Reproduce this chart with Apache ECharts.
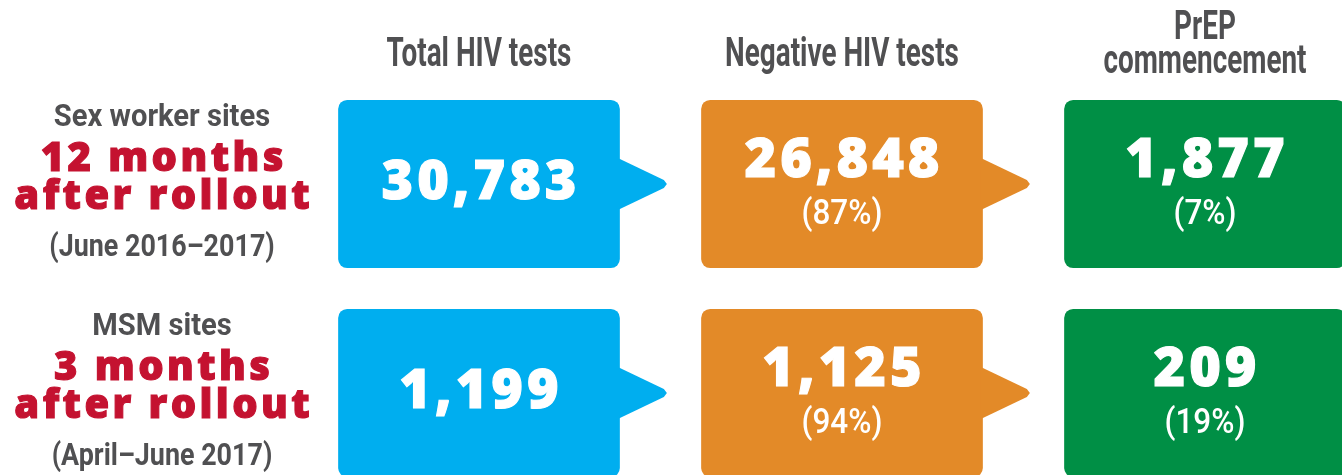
<!DOCTYPE html>
<html>
<head>
<meta charset="utf-8">
<script src="https://cdn.jsdelivr.net/npm/echarts@6/dist/echarts.min.js"></script>
<style>
html,body{margin:0;padding:0;background:#fff;}
#chart{width:1342px;height:475px;}
</style>
</head>
<body>
<div id="chart"></div>
<script>
// ---- data ----
const stages = ['Total HIV tests', 'Negative HIV tests', 'PrEP\ncommencement'];
const groups = ['Sex worker sites', 'MSM sites'];
const groupPeriods = ['12 months\nafter rollout', '3 months\nafter rollout'];
const groupDates = ['(June 2016\u20132017)', '(April\u2013June 2017)'];
const sexWorkerCounts = [30783, 26848, 1877];
const sexWorkerPercents = [null, 87, 7];
const msmCounts = [1199, 1125, 209];
const msmPercents = [null, 94, 19];
const stageColors = ['#00AEEF', '#E38A28', '#008F45'];

const HEAVY = '"Open Sans", "Noto Sans", sans-serif';
const COND = 'Roboto, "Noto Sans", sans-serif';
const GRAY = '#505052';
const RED = '#C41230';

const mctx = document.createElement('canvas').getContext('2d');
function tw(str, font) { mctx.font = font; return mctx.measureText(str).width; }

// letter-spaced heavy text, centred on (cx, cy)
function spaced(str, cx, cy, font, spacing, fill) {
  const chars = Array.from(str);
  const total = tw(str, font) + spacing * (chars.length - 1);
  const left = cx - total / 2;
  return chars.map((ch, i) => ({
    type: 'text',
    style: {
      x: left + tw(chars.slice(0, i).join(''), font) + spacing * i, y: cy,
      text: ch, font: font, fill: fill, stroke: fill, lineWidth: 1.1,
      textAlign: 'left', textVerticalAlign: 'middle'
    }
  }));
}
// horizontally condensed text, centred on (cx, cy)
function condensed(str, cx, cy, font, sx, fill) {
  return {
    type: 'text', x: cx, y: cy, scaleX: sx,
    style: { x: 0, y: 0, text: str, font: font, fill: fill, textAlign: 'center', textVerticalAlign: 'middle' }
  };
}

const counts = [sexWorkerCounts, msmCounts];
const percents = [sexWorkerPercents, msmPercents];
const items = [];
counts.forEach((row, r) => row.forEach((v, c) => items.push([c, r, v, percents[r][c] == null ? -1 : percents[r][c]])));

const hiddenAxis = {
  boundaryGap: false, axisLine: { show: false }, axisTick: { show: false },
  splitLine: { show: false }, axisLabel: { show: false }
};

const chart = echarts.init(document.getElementById('chart'));
chart.setOption({
  animation: false,
  grid: { left: 479, right: 137, top: 184, bottom: 82 },
  xAxis: Object.assign({ type: 'category', data: stages, position: 'top' }, hiddenAxis),
  yAxis: Object.assign({ type: 'category', data: groups, inverse: true }, hiddenAxis),
  series: [
    { // column headers
      type: 'custom', silent: true,
      data: stages.map((s, i) => [i, 0]),
      renderItem: (params, api) => {
        const i = api.value(0);
        const c = api.coord([i, 0]);
        const lines = stages[i].split('\n');
        const font = 'bold 41px ' + COND;
        if (lines.length === 1) {
          return condensed(lines[0], c[0], c[1] - 128, font, 0.68, GRAY);
        }
        return { type: 'group', children: lines.map((l, k) => condensed(l, c[0], c[1] - 155 + k * 34, font, 0.68, GRAY)) };
      }
    },
    { // row labels
      type: 'custom', silent: true,
      data: groups.map((g, i) => [0, i]),
      renderItem: (params, api) => {
        const i = api.value(1);
        const c = api.coord([0, i]);
        const cx = c[0] - 317;
        const red = groupPeriods[i].split('\n');
        const redFont = '800 40px ' + HEAVY;
        const children = [
          condensed(groups[i], cx, c[1] - 66, 'bold 32px ' + COND, 0.91, GRAY)
        ].concat(
          spaced(red[0], cx, c[1] - 24.5, redFont, 3.4, RED),
          spaced(red[1], cx, c[1] + 14, redFont, 3.4, RED),
          [condensed(groupDates[i], cx, c[1] + 64, 'bold 32px ' + COND, 0.84, GRAY)]
        );
        return { type: 'group', children };
      }
    },
    { // boxes
      type: 'custom',
      data: items,
      renderItem: (params, api) => {
        const col = api.value(0), row = api.value(1), val = api.value(2), pct = api.value(3);
        const c = api.coord([col, row]);
        const bw = api.size([1, 0])[0], bh = api.size([0, 1])[1];
        const w = bw * 0.776, h = bh * 0.804;
        const x0 = c[0] - w / 2, y0 = c[1] - h / 2;
        const color = stageColors[col];
        let children = [{
          type: 'rect', shape: { x: x0, y: y0, width: w, height: h, r: 9 }, style: { fill: color }
        }];
        if (col < stages.length - 1) {
          children.push({
            type: 'polygon',
            shape: { points: [[x0 + w - 2, c[1] - 26], [x0 + w + 44, c[1] - 4], [x0 + w + 47, c[1]], [x0 + w + 44, c[1] + 4], [x0 + w - 2, c[1] + 26]] },
            style: { fill: color }
          });
        }
        const hasPct = pct >= 0;
        children = children.concat(spaced(val.toLocaleString('en-US'), c[0], c[1] + (hasPct ? -22 : 0), '800 54px ' + HEAVY, 4, '#fff'));
        if (hasPct) {
          children.push(condensed('(' + pct + '%)', c[0], c[1] + 31, '500 35px ' + COND, 0.9, '#fff'));
        }
        return { type: 'group', children };
      }
    }
  ]
});
</script>
</body>
</html>
